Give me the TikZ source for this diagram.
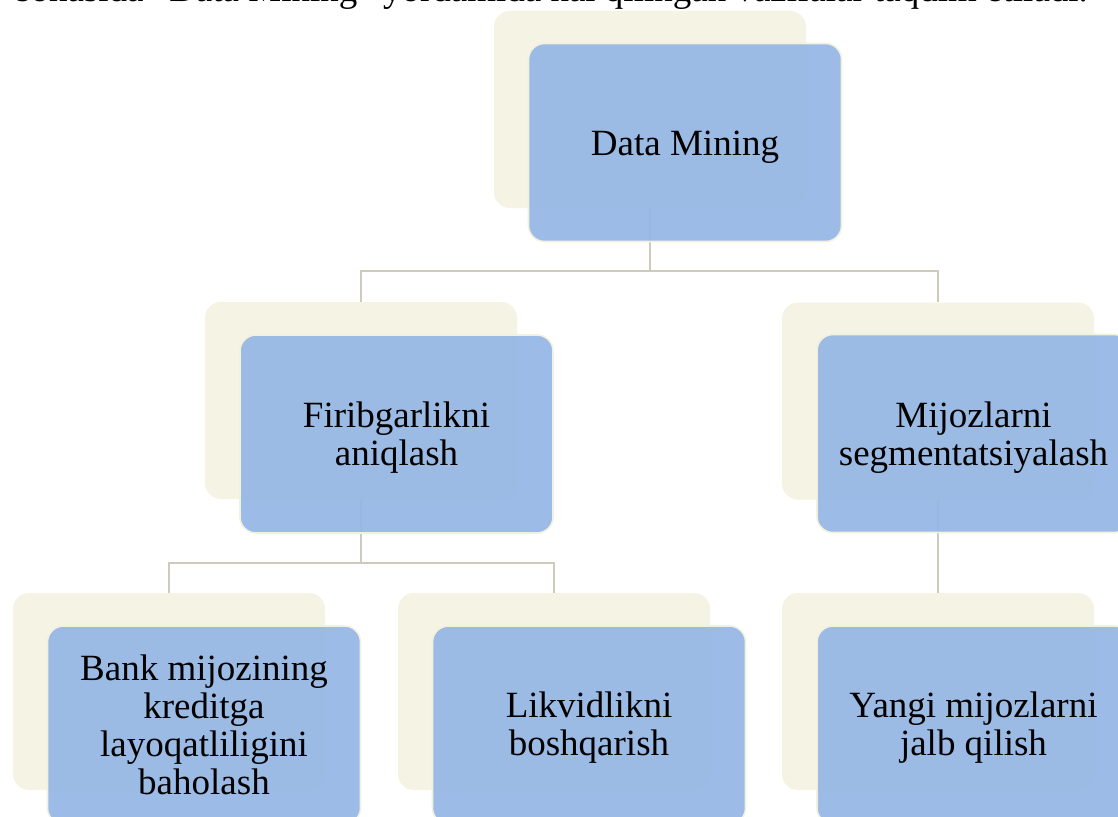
\documentclass[tikz,border=0pt]{standalone}
\usepackage{fontspec}
\setmainfont{Liberation Serif}
\definecolor{frontblue}{RGB}{150,183,228}
\definecolor{backcream}{RGB}{245,243,228}
\definecolor{edgecream}{RGB}{242,240,222}
\definecolor{connline}{RGB}{206,203,189}
\tikzset{
  backbox/.style={rectangle, rounded corners=16pt, fill=backcream, draw=none,
    minimum width=312pt, minimum height=197pt, inner sep=0pt},
  frontbox/.style={rectangle, rounded corners=16pt, fill=frontblue, fill opacity=0.94,
    draw=edgecream, draw opacity=1, line width=1.6pt,
    minimum width=313pt, minimum height=198pt, inner sep=0pt},
  boxtext/.style={align=center, text=black, inner sep=0pt,
    font=\fontsize{37}{38}\selectfont},
  conn/.style={draw=connline, line width=2.4pt},
}
\begin{document}
\begin{tikzpicture}[x=1pt,y=-1pt]
\useasboundingbox (0,0) rectangle (1118,816);
\clip (0,0) rectangle (1118,816);
% heading line, mostly cut off at the top
\node[anchor=base east, inner sep=0pt, font=\fontsize{37}{38}\selectfont] (head) at (1088,1.5)
  {sohasida ``Data Mining'' yordamida hal qilingan vazifalar taqdim etiladi.};
% back boxes
\node[backbox] (dmb) at (650,109.5) {};
\node[backbox] (fib) at (361,400.5) {};
\node[backbox] (mib) at (938,401) {};
\node[backbox] (bab) at (169,691.5) {};
\node[backbox] (lib) at (554,691.5) {};
\node[backbox] (yab) at (938,691.5) {};
% connectors
\coordinate (bus1) at (650,271);
\coordinate (bus2) at (361,563);
\draw[conn] (dmb.south) -- (bus1) -| (fib.north);
\draw[conn] (bus1) -| (mib.north);
\draw[conn] (fib.south) -- (bus2) -| (bab.north);
\draw[conn] (bus2) -| (lib.north);
\draw[conn] (mib.south) -- (yab.north);
% front boxes
\node[frontbox] (dm) at (685,142.5) {};
\node[frontbox] (fi) at (396.5,434) {};
\node[frontbox] (mi) at (973.5,433.5) {};
\node[frontbox] (ba) at (204,725) {};
\node[frontbox] (li) at (589,725) {};
\node[frontbox] (ya) at (973.5,725) {};
% texts
\node[boxtext] (dmt) at ([yshift=-5pt]dm.center) {Data Mining};
\node[boxtext] (fit) at ([yshift=-4pt]fi.center) {Firibgarlikni\\aniqlash};
\node[boxtext] (mit) at ([yshift=-4pt]mi.center) {Mijozlarni\\segmentatsiyalash};
\node[boxtext] (bat) at (ba.center) {Bank mijozining\\kreditga\\layoqatliligini\\baholash};
\node[boxtext] (lit) at ([yshift=-3pt]li.center) {Likvidlikni\\boshqarish};
\node[boxtext] (yat) at ([yshift=-3pt]ya.center) {Yangi mijozlarni\\jalb qilish};
\end{tikzpicture}
\end{document}
